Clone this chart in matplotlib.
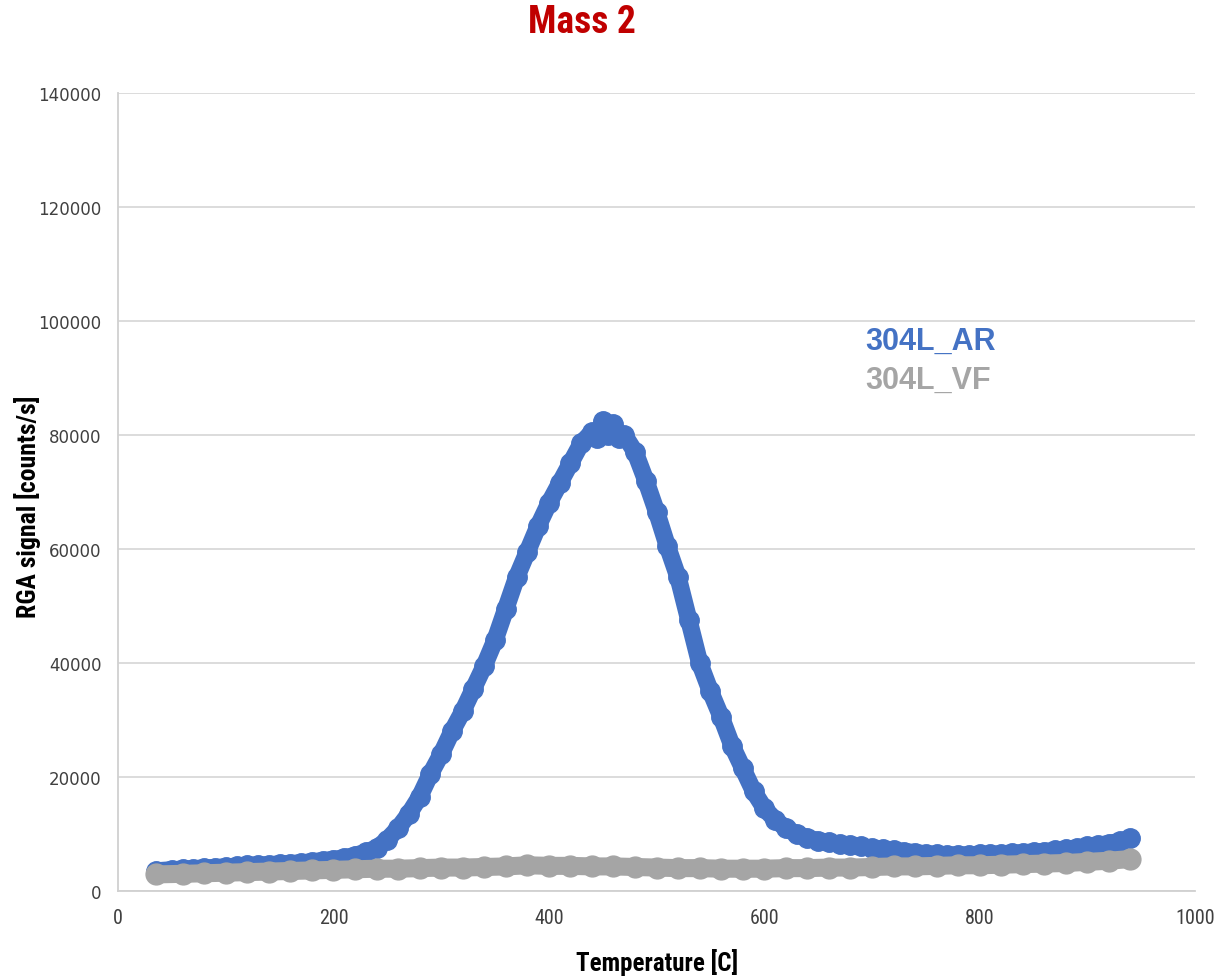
import matplotlib.pyplot as plt

# ------------------------------------------------------------
# Data (Mass 2 desorption)
# ------------------------------------------------------------

temp_ar = [35, 50, 60, 70, 80, 90, 100, 110, 120, 130, 140, 150, 160, 170,
           180, 190, 200, 210, 220, 230, 240, 250, 260, 270, 280, 290, 300,
           310, 320, 330, 340, 350, 360, 370, 380, 390, 400, 410, 420, 430,
           440, 445, 450, 455, 460, 465, 470, 480, 490, 500, 510, 520, 530,
           540, 550, 560, 570, 580, 590, 600, 610, 620, 630, 640, 650, 660,
           670, 680, 690, 700, 710, 720, 730, 740, 750, 760, 770, 780, 790,
           800, 810, 820, 830, 840, 850, 860, 870, 880, 890, 900, 910, 920,
           930, 940]
signal_ar = [3500, 3700, 3800, 3900, 4000, 4100, 4200, 4300, 4500, 4500,
             4600, 4700, 4800, 4900, 5100, 5300, 5500, 5800, 6200, 6800,
             7500, 9000, 11000, 13500, 16500, 20500, 24000, 28000, 31500,
             35500, 39500, 44000, 49500, 55000, 59500, 64000, 68000, 71500,
             75000, 78500, 80500, 79500, 82500, 80000, 82000, 79500, 80000,
             77000, 72000, 66500, 60500, 55000, 47500, 40000, 35000, 30500,
             25500, 21500, 17500, 14500, 12500, 11000, 10000, 9300, 8800,
             8500, 8200, 8000, 7800, 7500, 7300, 7100, 6900, 6700, 6500,
             6400, 6300, 6300, 6300, 6400, 6400, 6500, 6600, 6700, 6800,
             6900, 7100, 7300, 7500, 7800, 8000, 8300, 8700, 9200]

temp_vf = [35, 60, 80, 100, 120, 140, 160, 180, 200, 220, 240, 260, 280,
           300, 320, 340, 360, 380, 400, 420, 440, 460, 480, 500, 520, 540,
           560, 580, 600, 620, 640, 660, 680, 700, 720, 740, 760, 780, 800,
           820, 840, 860, 880, 900, 920, 940]
signal_vf = [2900, 3000, 3100, 3200, 3300, 3400, 3500, 3600, 3700, 3800,
             3900, 3900, 4000, 4100, 4100, 4200, 4300, 4500, 4400, 4400,
             4300, 4300, 4200, 4100, 4000, 4000, 3900, 3900, 3900, 4000,
             4000, 4100, 4100, 4200, 4300, 4300, 4400, 4500, 4500, 4600,
             4700, 4800, 4900, 5100, 5300, 5600]

x_ticks = [0, 200, 400, 600, 800, 1000]
y_ticks = [0, 20000, 40000, 60000, 80000, 100000, 120000, 140000]

BLUE = "#4472C4"
GRAY = "#A5A5A5"
NARROW = ["Roboto Condensed", "Liberation Sans Narrow", "Roboto", "DejaVu Sans"]

# ------------------------------------------------------------
# Figure
# ------------------------------------------------------------

fig = plt.figure(figsize=(12.17, 9.78), dpi=100)
ax = fig.add_axes([0.097, 0.088, 0.885, 0.816])

ax.plot(temp_ar, signal_ar, color=BLUE, lw=12.5, marker="o", ms=14,
        solid_capstyle="round", solid_joinstyle="round", zorder=3)
ax.plot(temp_vf, signal_vf, color=GRAY, lw=13, marker="o", ms=15,
        solid_capstyle="round", solid_joinstyle="round", zorder=4)

ax.set_xlim(0, 1000)
ax.set_ylim(0, 140000)
ax.set_xticks(x_ticks)
ax.set_yticks(y_ticks)
ax.set_xticklabels([str(t) for t in x_ticks], family=NARROW, fontsize=14.5,
                   color="#404040")
ax.set_yticklabels([str(t) for t in y_ticks], fontsize=12, color="#404040")
ax.tick_params(axis="both", length=0)
ax.tick_params(axis="x", pad=12)
ax.tick_params(axis="y", pad=12)

ax.grid(axis="y", color="#d9d9d9", lw=1.3)
ax.set_axisbelow(True)
for side in ["top", "right"]:
    ax.spines[side].set_visible(False)
for side in ["left", "bottom"]:
    ax.spines[side].set_color("#d0d0d0")
    ax.spines[side].set_linewidth(1.3)

ax.set_xlabel("Temperature [C]", family=NARROW, fontsize=18,
              fontweight="bold", va="center")
ax.xaxis.set_label_coords(0.5, -0.089)
ax.set_ylabel("RGA signal [counts/s]", family=NARROW, fontsize=18.5,
              fontweight="bold", va="center")
ax.yaxis.set_label_coords(-0.0845, 0.482)

fig.text(0.478, 0.977, "Mass 2", family=NARROW, fontsize=27,
         fontweight="bold", color="#C00000", ha="center", va="center")

ax.text(694, 96500, "304L_AR", family=["Liberation Sans", "DejaVu Sans"],
        fontsize=22, fontweight="bold", color=BLUE, va="center")
ax.text(694, 89600, "304L_VF", family=["Liberation Sans", "DejaVu Sans"],
        fontsize=22, fontweight="bold", color=GRAY, va="center")

fig.savefig("out.png", dpi=100)
